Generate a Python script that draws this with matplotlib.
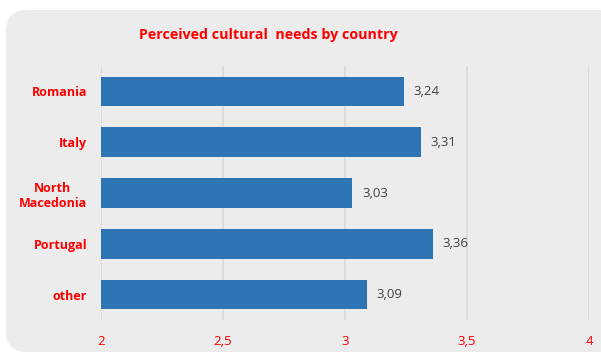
import matplotlib.pyplot as plt
from matplotlib.patches import FancyBboxPatch

plt.rcParams['font.family'] = ['Open Sans', 'DejaVu Sans']

countries = ["Romania", "Italy", "North\nMacedonia", "Portugal", "other"]
scores = [3.24, 3.31, 3.03, 3.36, 3.09]
xticks = [2, 2.5, 3, 3.5, 4]
xtick_labels = ["2", "2,5", "3", "3,5", "4"]

fig = plt.figure(figsize=(6.01, 3.53), dpi=100)
fig.patch.set_facecolor("white")

# rounded grey panel behind the chart
panel = FancyBboxPatch((6 / 601, 1 / 353), 1.02, 1 - 11 / 353,
                       boxstyle="round,pad=0,rounding_size=0.035",
                       transform=fig.transFigure, facecolor="#ECECEC",
                       edgecolor="none", zorder=-10, mutation_aspect=601 / 353)
fig.patches.append(panel)

ax = fig.add_axes([101 / 601, 1 - 320 / 353, 488 / 601, 254 / 353])
ax.set_facecolor("none")

y = range(len(countries))
ax.barh(y, [s - 2 for s in scores], left=2, height=0.58, color="#2E75B6", zorder=2)
for yi, s in zip(y, scores):
    ax.text(s + 0.04, yi, f"{s:.2f}".replace(".", ","), va="center", ha="left",
            fontsize=9.5, color="#404040")

ax.set_xlim(2, 4)
ax.set_ylim(4.5, -0.5)
ax.set_xticks(xticks)
ax.set_xticklabels(xtick_labels, color="#FF0000", fontsize=9.5)
ax.set_yticks(list(y))
ax.set_yticklabels(countries, color="#FF0000", fontsize=9, fontweight="bold",
                   multialignment="center")
ax.tick_params(axis="both", length=0)
ax.tick_params(axis="x", pad=11)
ax.tick_params(axis="y", pad=10)
ax.grid(axis="x", color="#D9D9D9", linewidth=1.2, zorder=1)
for sp in ax.spines.values():
    sp.set_visible(False)

fig.text(268 / 601, 1 - 35 / 353, "Perceived cultural  needs by country",
         ha="center", va="center", color="#FF0000", fontsize=10.3, fontweight="bold")

fig.savefig("out.png", dpi=100)
